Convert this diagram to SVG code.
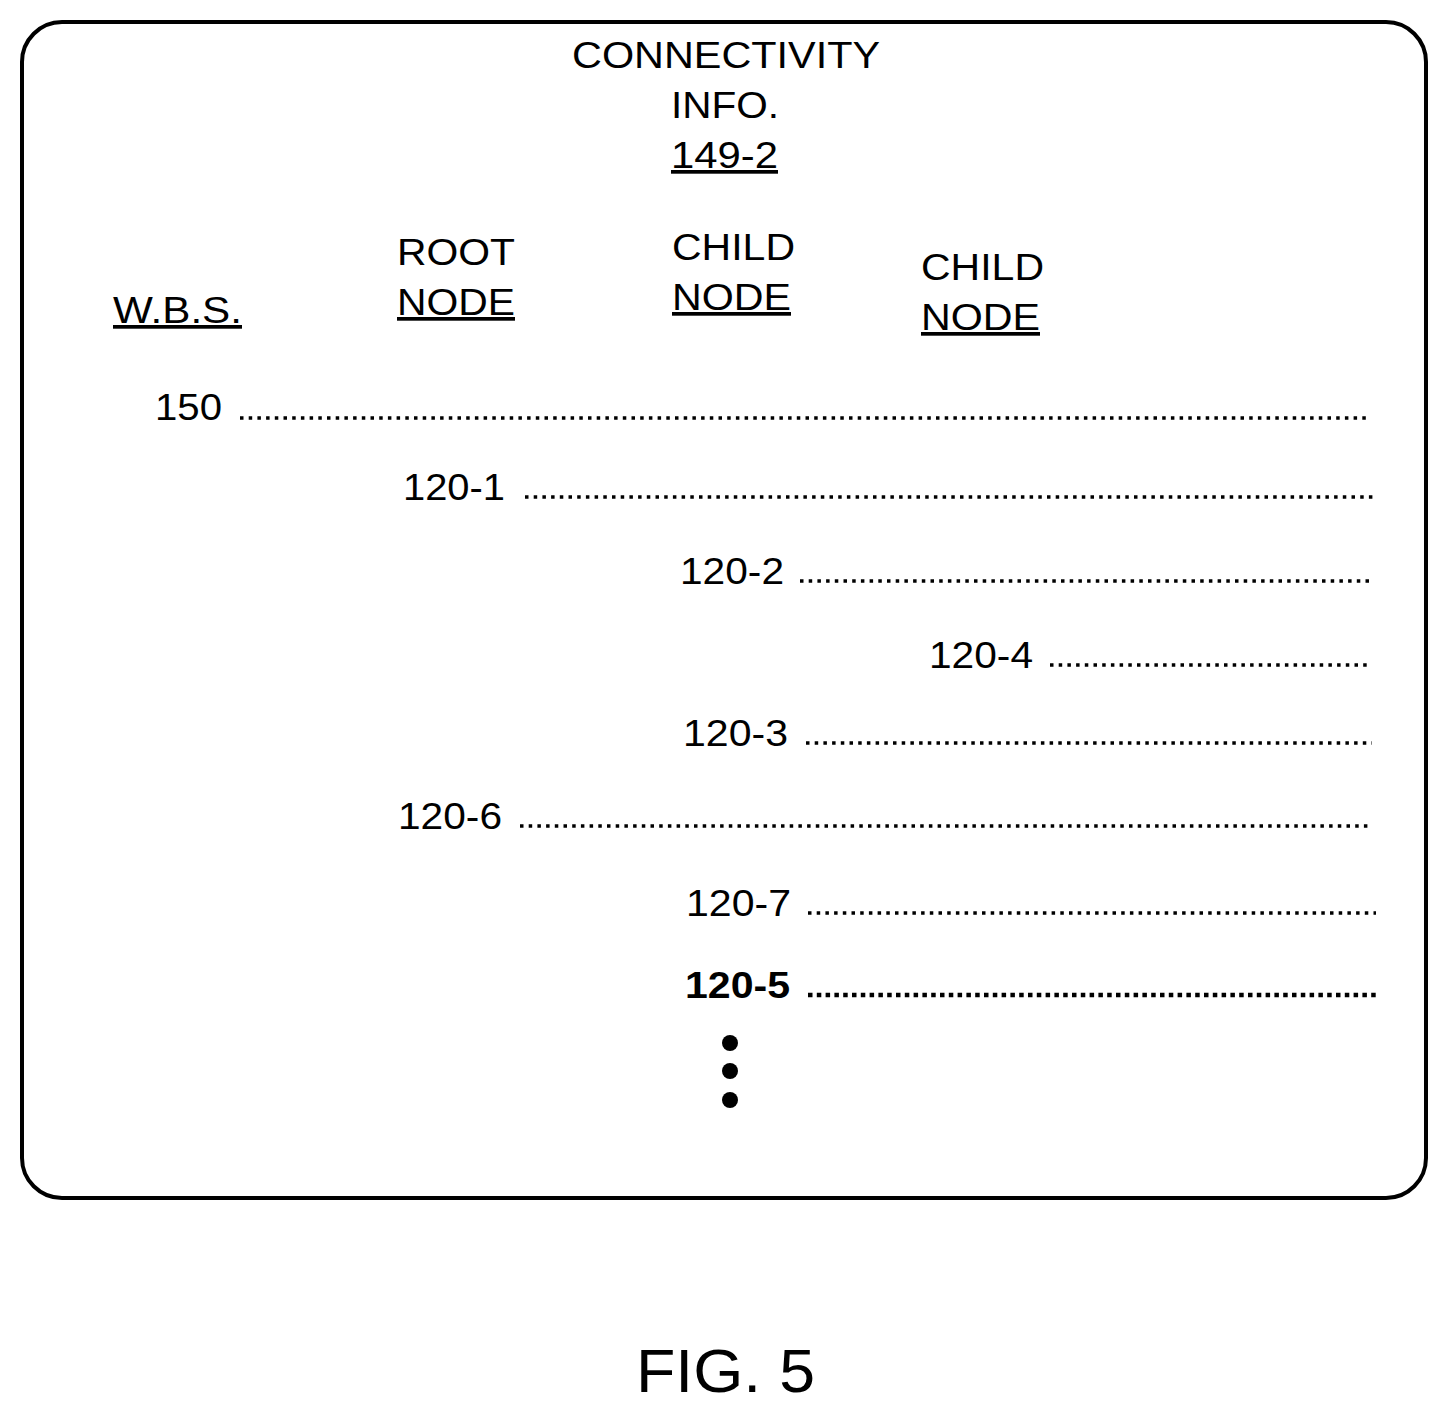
<svg xmlns="http://www.w3.org/2000/svg" width="1448" height="1414" viewBox="0 0 1448 1414">
<style>
text{font-family:"Liberation Sans",Arial,sans-serif;font-size:37px;fill:#000}
.u{text-decoration:underline}
.b{font-weight:bold}
.d{stroke:#000;stroke-width:3.5;stroke-dasharray:3.5 5.2;fill:none}
.db{stroke:#000;stroke-width:4.5;stroke-dasharray:4.5 4.3;fill:none}
</style>
<rect x="22" y="22" width="1404" height="1176" rx="40" fill="#fff" stroke="#000" stroke-width="4"/>
<g id="header">
<text x="572" y="68" textLength="308" lengthAdjust="spacingAndGlyphs">CONNECTIVITY</text>
<text x="671" y="118" textLength="108" lengthAdjust="spacingAndGlyphs">INFO.</text>
<text x="671" y="168" class="u" textLength="107" lengthAdjust="spacingAndGlyphs">149-2</text>
<text x="113" y="323" class="u" textLength="129" lengthAdjust="spacingAndGlyphs">W.B.S.</text>
<text x="397" y="265" textLength="118" lengthAdjust="spacingAndGlyphs">ROOT</text>
<text x="397" y="315" class="u" textLength="118" lengthAdjust="spacingAndGlyphs">NODE</text>
<text x="672" y="260" textLength="123" lengthAdjust="spacingAndGlyphs">CHILD</text>
<text x="672" y="310" class="u" textLength="119" lengthAdjust="spacingAndGlyphs">NODE</text>
<text x="921" y="280" textLength="123" lengthAdjust="spacingAndGlyphs">CHILD</text>
<text x="921" y="330" class="u" textLength="119" lengthAdjust="spacingAndGlyphs">NODE</text>
</g>
<g id="n150"><text x="155" y="420" textLength="67" lengthAdjust="spacingAndGlyphs">150</text></g>
<g id="n120-1"><text x="403" y="500" textLength="102" lengthAdjust="spacingAndGlyphs">120-1</text></g>
<g id="n120-2"><text x="680" y="584" textLength="104" lengthAdjust="spacingAndGlyphs">120-2</text></g>
<g id="n120-4"><text x="929" y="668" textLength="104" lengthAdjust="spacingAndGlyphs">120-4</text></g>
<g id="n120-3"><text x="683" y="746" textLength="105" lengthAdjust="spacingAndGlyphs">120-3</text></g>
<g id="n120-6"><text x="398" y="829" textLength="104" lengthAdjust="spacingAndGlyphs">120-6</text></g>
<g id="n120-7"><text x="686" y="916" textLength="105" lengthAdjust="spacingAndGlyphs">120-7</text></g>
<g id="n120-5"><text x="685" y="998" class="b" textLength="105" lengthAdjust="spacingAndGlyphs">120-5</text></g>
<g id="connectors">
<line class="d" x1="240" y1="418" x2="1370" y2="418"/>
<line class="d" x1="525" y1="497" x2="1374" y2="497"/>
<line class="d" x1="800" y1="581" x2="1370" y2="581"/>
<line class="d" x1="1050" y1="665" x2="1370" y2="665"/>
<line class="d" x1="806" y1="743" x2="1372" y2="743"/>
<line class="d" x1="520" y1="826" x2="1370" y2="826"/>
<line class="d" x1="808" y1="913" x2="1376" y2="913"/>
<line class="db" x1="808" y1="995" x2="1376" y2="995"/>
</g>
<g id="ellipsis">
<circle cx="730" cy="1043" r="8"/>
<circle cx="730" cy="1071" r="8"/>
<circle cx="730" cy="1100" r="8"/>
</g>
<text x="636" y="1392" style="font-size:62px" textLength="179" lengthAdjust="spacingAndGlyphs">FIG. 5</text>
</svg>
